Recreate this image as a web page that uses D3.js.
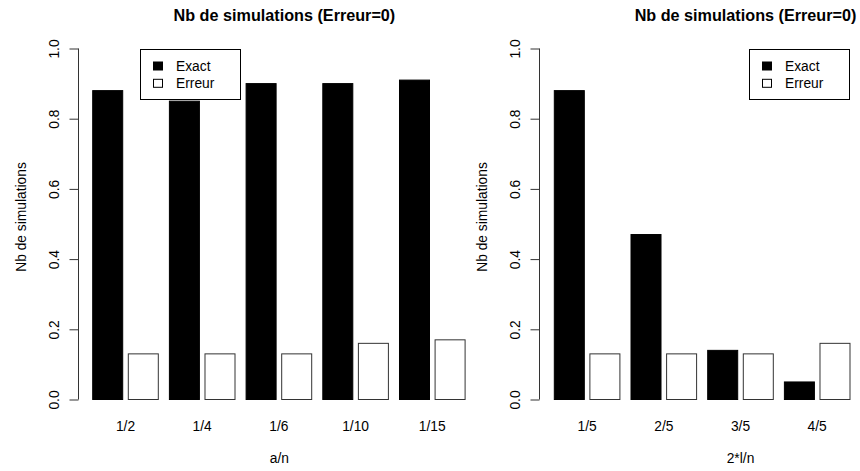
<!DOCTYPE html>
<html>
<head>
<meta charset="utf-8">
<script src="https://cdn.jsdelivr.net/npm/d3@7"></script>
<style>
  html, body { margin: 0; padding: 0; background: #fff; }
  svg { display: block; font-family: "Liberation Sans", Arial, Helvetica, sans-serif; }
</style>
</head>
<body>
<svg id="chart" width="860" height="471"></svg>
<script>
// ---- data ----
const seriesNames = ["Exact", "Erreur"];
const seriesFill = ["#000000", "#ffffff"];
const leftCategories = ["1/2", "1/4", "1/6", "1/10", "1/15"];
const leftExact = [0.88, 0.85, 0.90, 0.90, 0.91];
const leftErreur = [0.13, 0.13, 0.13, 0.16, 0.17];
const rightCategories = ["1/5", "2/5", "3/5", "4/5"];
const rightExact = [0.88, 0.47, 0.14, 0.05];
const rightErreur = [0.13, 0.13, 0.13, 0.16];
const yTicks = [0, 0.2, 0.4, 0.6, 0.8, 1.0];
const titleText = "Nb de simulations (Erreur=0)";
const yLabelText = "Nb de simulations";
const leftXLabel = "a/n";
const rightXLabel = "2*l/n";

const svg = d3.select("#chart");
const y = d3.scaleLinear().domain([0, 1]).range([399.5, 48.5]);
const STEP = 76.7;
const FS = 13.8;

function panel(opts) {
  const { axisX, r0, plotCenter, categories, exact, erreur, xLabel, legendX } = opts;
  const g = svg.append("g");
  const n = categories.length;
  const x0 = d3.scaleBand().domain(categories)
    .range([r0, r0 + n * STEP]).paddingInner(0.1447).paddingOuter(0.0724);
  const x1 = d3.scaleBand().domain(seriesNames)
    .range([0, x0.bandwidth()]).paddingInner(0.157).paddingOuter(0);

  const rows = categories.map((c, i) => ({ cat: c, vals: [exact[i], erreur[i]] }));
  const grp = g.selectAll("g.grp").data(rows).join("g")
    .attr("transform", d => `translate(${x0(d.cat)},0)`);
  grp.selectAll("rect").data(d => d.vals.map((v, k) => ({ v, k })))
    .join("rect")
    .attr("x", d => x1(seriesNames[d.k]))
    .attr("width", x1.bandwidth())
    .attr("y", d => y(d.v))
    .attr("height", d => y(0) - y(d.v))
    .attr("fill", d => seriesFill[d.k])
    .attr("stroke", d => d.k === 0 ? "#000" : "#333")
    .attr("stroke-width", 1);

  // x tick labels
  g.selectAll("text.xt").data(categories).join("text")
    .attr("x", d => x0(d) + x0.bandwidth() / 2)
    .attr("y", 431)
    .attr("text-anchor", "middle")
    .attr("font-size", FS)
    .text(d => d);

  // y axis
  const yAxis = d3.axisLeft(y).tickValues(yTicks).tickSize(9)
    .tickFormat(d3.format(".1f"));
  const ya = g.append("g").attr("transform", `translate(${axisX},0)`).call(yAxis);
  ya.select(".domain").attr("d", `M0,${y(0)}V${y(1)}`).attr("stroke", "#333");
  ya.selectAll(".tick line").attr("stroke", "#333");
  ya.selectAll(".tick text")
    .attr("font-size", FS)
    .attr("font-family", "Liberation Sans, Arial, Helvetica, sans-serif")
    .attr("fill", "#000")
    .attr("x", null).attr("dy", null)
    .attr("text-anchor", "middle")
    .attr("transform", "translate(-20,0) rotate(-90)");

  // y label
  g.append("text")
    .attr("transform", `translate(${axisX - 53},217) rotate(-90)`)
    .attr("text-anchor", "middle")
    .attr("font-size", FS)
    .text(yLabelText);

  // x label
  g.append("text")
    .attr("x", plotCenter).attr("y", 463)
    .attr("text-anchor", "middle")
    .attr("font-size", FS)
    .text(xLabel);

  // title
  g.append("text")
    .attr("x", plotCenter + 5).attr("y", 20.5)
    .attr("text-anchor", "middle")
    .attr("font-size", 16.2)
    .attr("font-weight", "bold")
    .text(titleText);

  // legend
  const lg = g.append("g").attr("transform", `translate(${legendX},49)`);
  lg.append("rect").attr("x", 0.5).attr("y", 0.5).attr("width", 100).attr("height", 50)
    .attr("fill", "#fff").attr("stroke", "#000");
  seriesNames.forEach((s, i) => {
    lg.append("rect").attr("x", 13.5).attr("y", 13 + i * 17.3)
      .attr("width", 9).attr("height", 8)
      .attr("fill", seriesFill[i]).attr("stroke", "#000");
    lg.append("text").attr("x", 36).attr("y", 22 + i * 17.3)
      .attr("font-size", FS).text(s);
  });
}

panel({ axisX: 78.5, r0: 87.15, plotCenter: 279.4, categories: leftCategories,
        exact: leftExact, erreur: leftErreur, xLabel: leftXLabel, legendX: 140 });
panel({ axisX: 539.5, r0: 548.75, plotCenter: 740.5, categories: rightCategories,
        exact: rightExact, erreur: rightErreur, xLabel: rightXLabel, legendX: 749 });
</script>
</body>
</html>
